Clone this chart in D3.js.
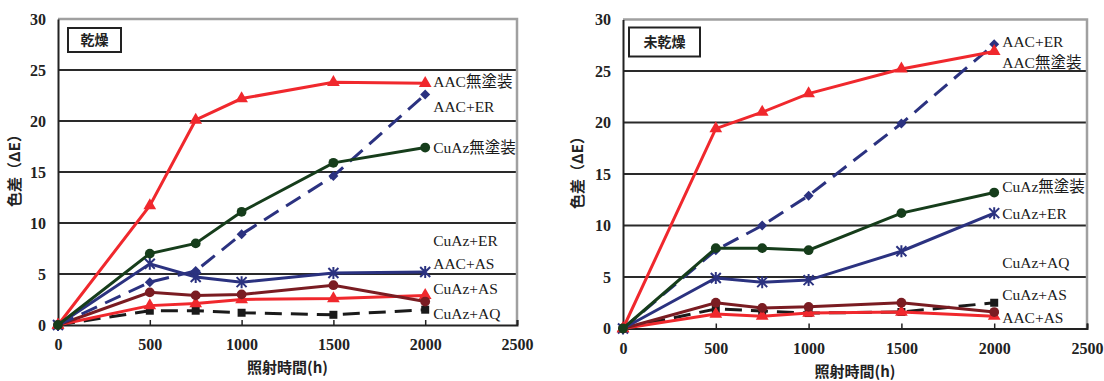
<!DOCTYPE html>
<html>
<head>
<meta charset="utf-8">
<script src="https://cdn.jsdelivr.net/npm/d3@7"></script>
<style>
  body { margin: 0; background: #fff; }
  svg { display: block; }
  .lbl { font-family: "Liberation Serif", "Noto Sans CJK JP", serif; font-size: 15.5px; fill: #1a1a1a; }
  .ttl { font-family: "Noto Sans CJK JP", sans-serif; font-weight: bold; font-size: 14px; fill: #222; }
</style>
</head>
<body>
<svg id="chart" width="1104" height="381"></svg>
<script>
"use strict";

// irradiation hours
const hours = [0, 500, 750, 1000, 1500, 2000];
const seriesNames = ["CuAz+AQ", "AAC+AS", "CuAz+AS", "CuAz+ER", "AAC+ER", "AAC無塗装", "CuAz無塗装"];

// 乾燥 (dry)
const dryAACnone  = [0, 11.7, 20.1, 22.2, 23.8, 23.7];
const dryAACER    = [0, 4.2, 5.3, 8.9, 14.6, 22.6];
const dryCuAznone = [0, 7.0, 8.0, 11.1, 15.9, 17.4];
const dryCuAzER   = [0, 6.0, 4.7, 4.2, 5.1, 5.2];
const dryCuAzAS   = [0, 3.2, 2.9, 3.0, 3.9, 2.3];
const dryAACAS    = [0, 1.9, 2.1, 2.5, 2.6, 2.9];
const dryCuAzAQ   = [0, 1.4, 1.4, 1.2, 1.0, 1.5];

// 未乾燥 (not dried)
const wetAACnone  = [0, 19.4, 21.0, 22.8, 25.2, 26.9];
const wetAACER    = [0, 7.6, 10.0, 12.9, 19.9, 27.6];
const wetCuAznone = [0, 7.8, 7.8, 7.6, 11.2, 13.2];
const wetCuAzER   = [0, 4.9, 4.5, 4.7, 7.5, 11.2];
const wetCuAzAS   = [0, 2.5, 2.0, 2.1, 2.5, 1.6];
const wetAACAS    = [0, 1.4, 1.2, 1.5, 1.6, 1.2];
const wetCuAzAQ   = [0, 1.9, 1.7, 1.5, 1.6, 2.5];

// label heights (in ΔE units) next to the 2000h end
const dryLabelY = { "AAC無塗装": 23.8, "AAC+ER": 21.4, "CuAz無塗装": 17.4, "CuAz+ER": 8.2, "AAC+AS": 6.0, "CuAz+AS": 3.5, "CuAz+AQ": 1.1 };
const wetLabelY = { "AAC+ER": 27.8, "AAC無塗装": 25.8, "CuAz無塗装": 13.7, "CuAz+ER": 11.1, "CuAz+AQ": 6.4, "CuAz+AS": 3.3, "AAC+AS": 1.0 };

const xTicks = [0, 500, 1000, 1500, 2000, 2500];
const yTicks = [0, 5, 10, 15, 20, 25, 30];

const styles = {
    "AAC無塗装":  { color: "#f0282d", dash: null, marker: "triangle" },
    "AAC+ER":    { color: "#2b3280", dash: "17,9", marker: "diamond" },
    "CuAz無塗装": { color: "#163d1b", dash: null, marker: "circle" },
    "CuAz+ER":   { color: "#2b3280", dash: null, marker: "asterisk" },
    "CuAz+AS":   { color: "#7a1c22", dash: null, marker: "circle" },
    "AAC+AS":    { color: "#f0282d", dash: null, marker: "triangle" },
    "CuAz+AQ":   { color: "#1a1a1a", dash: "17,9", marker: "square" }
};

const svg = d3.select("#chart");

function styleTicks(axisG) {
    axisG.selectAll(".tick text")
        .attr("font-family", null)
        .style("font-family", "'Liberation Serif', serif")
        .style("font-weight", "bold")
        .style("font-size", "16px")
        .style("fill", "#222");
}

function drawPanel(opt) {
    const { left, top, width, height, title, box, data, labelY, ylabX } = opt;
    const g = svg.append("g").attr("transform", "translate(" + left + "," + top + ")");

    const x = d3.scaleLinear().domain([0, 2500]).range([0, width]);
    const y = d3.scaleLinear().domain([0, 30]).range([height, 0]);

    // grid lines
    g.selectAll(".grid").data(yTicks.filter(d => d > 0 && d < 30)).enter()
        .append("line")
        .attr("x1", 0).attr("x2", width)
        .attr("y1", d => y(d)).attr("y2", d => y(d))
        .attr("stroke", "#2a2a2a").attr("stroke-width", 2);

    // top / right frame in gray
    g.append("path")
        .attr("d", "M0," + y(30) + "H" + width + "V" + height)
        .attr("fill", "none").attr("stroke", "#a0a0a0").attr("stroke-width", 2.5);

    // axes
    const yAxis = g.append("g")
        .call(d3.axisLeft(y).tickValues(yTicks).tickSize(0).tickPadding(12).tickFormat(d3.format("d")));
    yAxis.select(".domain").attr("stroke", "#222").attr("stroke-width", 2);
    yAxis.selectAll(".tick line").remove();
    styleTicks(yAxis);

    const xAxis = g.append("g")
        .attr("transform", "translate(0," + height + ")")
        .call(d3.axisBottom(x).tickValues(xTicks).tickSize(-5).tickPadding(14).tickFormat(d3.format("d")));
    xAxis.select(".domain").attr("stroke", "#222").attr("stroke-width", 2);
    xAxis.selectAll(".tick line").attr("stroke", "#222").attr("stroke-width", 1.5);
    styleTicks(xAxis);

    // title box
    g.append("rect")
        .attr("x", box.x).attr("y", box.y).attr("width", box.w).attr("height", box.h)
        .attr("fill", "#fff").attr("stroke", "#222").attr("stroke-width", 2);
    g.append("text").attr("class", "ttl")
        .attr("x", box.x + box.w / 2).attr("y", box.y + box.h / 2 + 5)
        .attr("text-anchor", "middle").text(title);

    // axis labels
    g.append("text").attr("class", "ttl")
        .attr("transform", "translate(" + ylabX + "," + (height / 2 - 5) + ") rotate(-90)")
        .attr("text-anchor", "middle").style("font-size", "15px")
        .text("色差（ΔE）");
    g.append("text").attr("class", "ttl")
        .attr("x", width / 2).attr("y", height + 48)
        .attr("text-anchor", "middle").style("font-size", "15px")
        .text("照射時間(h)");

    const line = d3.line().x((d, i) => x(hours[i])).y(d => y(d));

    seriesNames.forEach(name => {
        const st = styles[name];
        const vals = data[name];
        g.append("path")
            .datum(vals)
            .attr("d", line)
            .attr("fill", "none")
            .attr("stroke", st.color)
            .attr("stroke-width", 3)
            .attr("stroke-dasharray", st.dash);

        const pts = g.append("g").selectAll("path").data(vals).enter().append("path")
            .attr("transform", (d, i) => "translate(" + x(hours[i]) + "," + y(d) + ")");
        if (st.marker === "asterisk") {
            pts.attr("d", "M0,-6V6M-5,-5L5,5M-5,5L5,-5")
                .attr("fill", "none").attr("stroke", st.color).attr("stroke-width", 2);
        } else if (st.marker === "diamond") {
            pts.attr("d", d3.symbol().type(d3.symbolSquare).size(50))
                .attr("transform", (d, i) => "translate(" + x(hours[i]) + "," + y(d) + ") rotate(45)")
                .attr("fill", st.color);
        } else {
            const sym = { triangle: d3.symbolTriangle, circle: d3.symbolCircle, square: d3.symbolSquare }[st.marker];
            const size = { triangle: 70, circle: 75, square: 64 }[st.marker];
            pts.attr("d", d3.symbol().type(sym).size(size)).attr("fill", st.color);
        }
    });

    // series labels
    Object.keys(labelY).forEach(name => {
        g.append("text").attr("class", "lbl")
            .attr("x", x(2000) + 8).attr("y", y(labelY[name]) + 5)
            .text(name);
    });
}

drawPanel({
    left: 58, top: 19, width: 459, height: 306, title: "乾燥",
    box: { x: 10, y: 9, w: 53, h: 24 },
    data: { "AAC無塗装": dryAACnone, "AAC+ER": dryAACER, "CuAz無塗装": dryCuAznone, "CuAz+ER": dryCuAzER,
            "CuAz+AS": dryCuAzAS, "AAC+AS": dryAACAS, "CuAz+AQ": dryCuAzAQ },
    labelY: dryLabelY, ylabX: -38
});

drawPanel({
    left: 623, top: 19.5, width: 464, height: 309, title: "未乾燥",
    box: { x: 6, y: 8, w: 71, h: 29 },
    data: { "AAC無塗装": wetAACnone, "AAC+ER": wetAACER, "CuAz無塗装": wetCuAznone, "CuAz+ER": wetCuAzER,
            "CuAz+AS": wetCuAzAS, "AAC+AS": wetAACAS, "CuAz+AQ": wetCuAzAQ },
    labelY: wetLabelY, ylabX: -40
});
</script>
</body>
</html>
